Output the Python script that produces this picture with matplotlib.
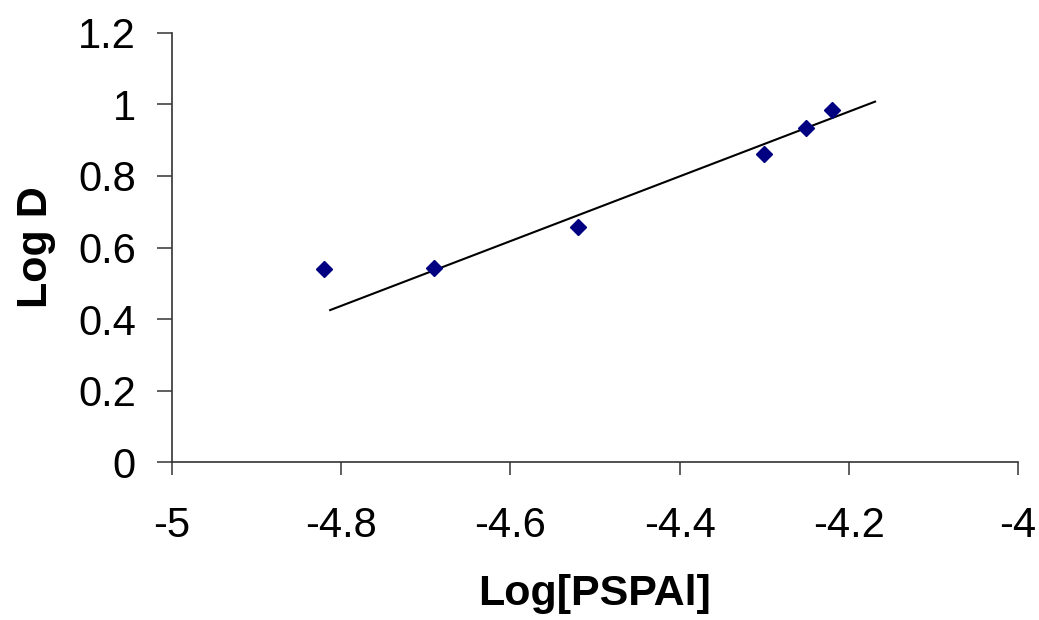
import matplotlib
matplotlib.use("Agg")
import matplotlib.pyplot as plt

plt.rcParams['font.family'] = ['Liberation Sans', 'DejaVu Sans']

log_pspal = [-4.82, -4.69, -4.52, -4.30, -4.25, -4.22]
log_d = [0.54, 0.543, 0.657, 0.862, 0.934, 0.985]
trend_x = [-4.813, -4.169]
trend_y = [0.425, 1.008]
x_ticks = [-5, -4.8, -4.6, -4.4, -4.2, -4]
x_tick_labels = ['-5', '-4.8', '-4.6', '-4.4', '-4.2', '-4']
y_ticks = [0, 0.2, 0.4, 0.6, 0.8, 1, 1.2]
y_tick_labels = ['0', '0.2', '0.4', '0.6', '0.8', '1', '1.2']

fig = plt.figure(figsize=(10.39, 6.2), dpi=100)
ax = fig.add_axes([0.1655, 0.2548, 0.8143, 0.692])

ax.plot(trend_x, trend_y, color='black', lw=1.5, zorder=2)
ax.plot(log_pspal, log_d, linestyle='none', marker='D', markersize=8.5,
        color='#000080', markeredgecolor='#000080', zorder=3)

ax.set_xlim(-5, -4)
ax.set_ylim(0, 1.2)
ax.set_xticks(x_ticks)
ax.set_xticklabels(x_tick_labels)
ax.set_yticks(y_ticks)
ax.set_yticklabels(y_tick_labels)

for s in ['top', 'right']:
    ax.spines[s].set_visible(False)
for s in ['left', 'bottom']:
    ax.spines[s].set_linewidth(1.2)
    ax.spines[s].set_color('#333333')

ax.tick_params(axis='x', direction='out', length=9.5, width=1.2, color='#444444',
               labelsize=30, pad=22)
ax.tick_params(axis='y', direction='out', length=11, width=1.2, color='#444444',
               labelsize=30, pad=15)

ax.set_xlabel('Log[PSPAl]', fontsize=31, fontweight='bold', labelpad=20)
ax.set_ylabel('Log D', fontsize=31, fontweight='bold', labelpad=16)

fig.savefig('out.png', dpi=100)
